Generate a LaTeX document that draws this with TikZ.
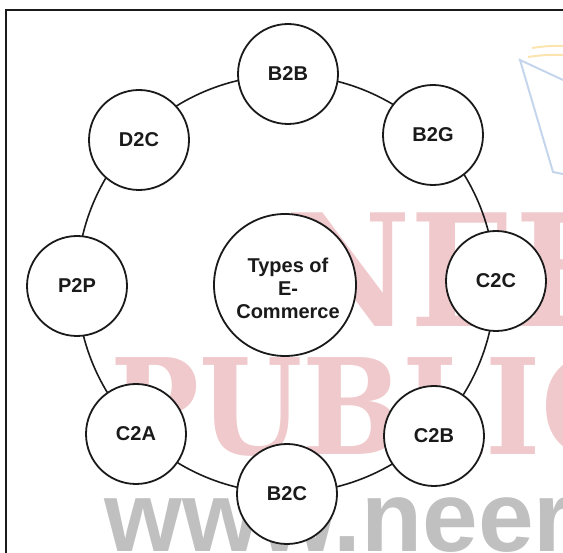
\documentclass[tikz,border=0pt]{standalone}
\usepackage{fontspec}
\setmainfont{Liberation Sans}
\newfontfamily\wmserif{DejaVu Serif}
\definecolor{wmpink}{RGB}{240,201,204}
\definecolor{wmgray}{RGB}{192,192,192}
\definecolor{wmblue}{RGB}{197,214,236}
\definecolor{wmyellow}{RGB}{251,228,176}
\definecolor{ink}{RGB}{26,26,26}
\begin{document}
\begin{tikzpicture}[x=1pt,y=-1pt,
  smallc/.style={circle,draw=ink,line width=1.8pt,fill=white,minimum size=100pt,inner sep=0pt,
    font=\bfseries\fontsize{20}{23}\selectfont,text=ink},
  bigc/.style={circle,draw=ink,line width=1.8pt,fill=white,minimum size=142pt,inner sep=0pt},
  ringline/.style={draw=ink,line width=1.6pt},
  framel/.style={draw=ink,line width=2pt}]
\useasboundingbox (0,0) rectangle (563,553);
% watermark
\begin{scope}
\clip (0,0) rectangle (563,553);
\node[anchor=base west,inner sep=0pt,text=wmpink,xscale=0.88,
  font=\wmserif\bfseries\fontsize{156}{156}\selectfont] (wm1) at (285,327) {NEER};
\node[anchor=base west,inner sep=0pt,text=wmpink,xscale=0.89,
  font=\wmserif\bfseries\fontsize{133}{133}\selectfont] (wm2) at (110,455) {PUBLIC};
\node[anchor=base west,inner sep=0pt,text=wmgray,
  font=\bfseries\fontsize{100}{100}\selectfont] (wm3) at (104,552) {www.neer};
\coordinate (lg1) at (520,60);
\coordinate (lg2) at (563,80);
\coordinate (lg3) at (553,172);
\coordinate (lg4) at (563,174);
\draw[wmblue,line width=2pt] (lg2) -- (lg1) -- (lg3) -- (lg4);
\draw[wmyellow,line width=2pt] (532,48) to[bend left=5] (563,46);
\draw[wmyellow,line width=2pt] (528,57) to[bend left=5] (563,55);
\end{scope}
% frame
\coordinate (ftr) at (563,10);
\coordinate (ftl) at (6,10);
\coordinate (fbl) at (6,553);
\draw[framel] (ftr) -- (ftl) -- (fbl);
% ring
\coordinate (ring) at (286,284);
\draw[ringline] (ring) circle[radius=209pt];
% nodes
\node[bigc] (center) at (285,285) {};
\node[align=center,font=\bfseries\fontsize{20}{23}\selectfont,text=ink,inner sep=0pt] (ctext) at (288,288) {Types of\\E-\\Commerce};
\node[smallc] (b2b) at (288,74) {B2B};
\node[smallc] (b2g) at (433,135) {B2G};
\node[smallc] (c2c) at (496,281) {C2C};
\node[smallc] (c2b) at (434,436) {C2B};
\node[smallc] (b2c) at (287,494) {B2C};
\node[smallc] (c2a) at (136,434) {C2A};
\node[smallc] (p2p) at (77,286) {P2P};
\node[smallc] (d2c) at (139,140) {D2C};
\end{tikzpicture}
\end{document}
